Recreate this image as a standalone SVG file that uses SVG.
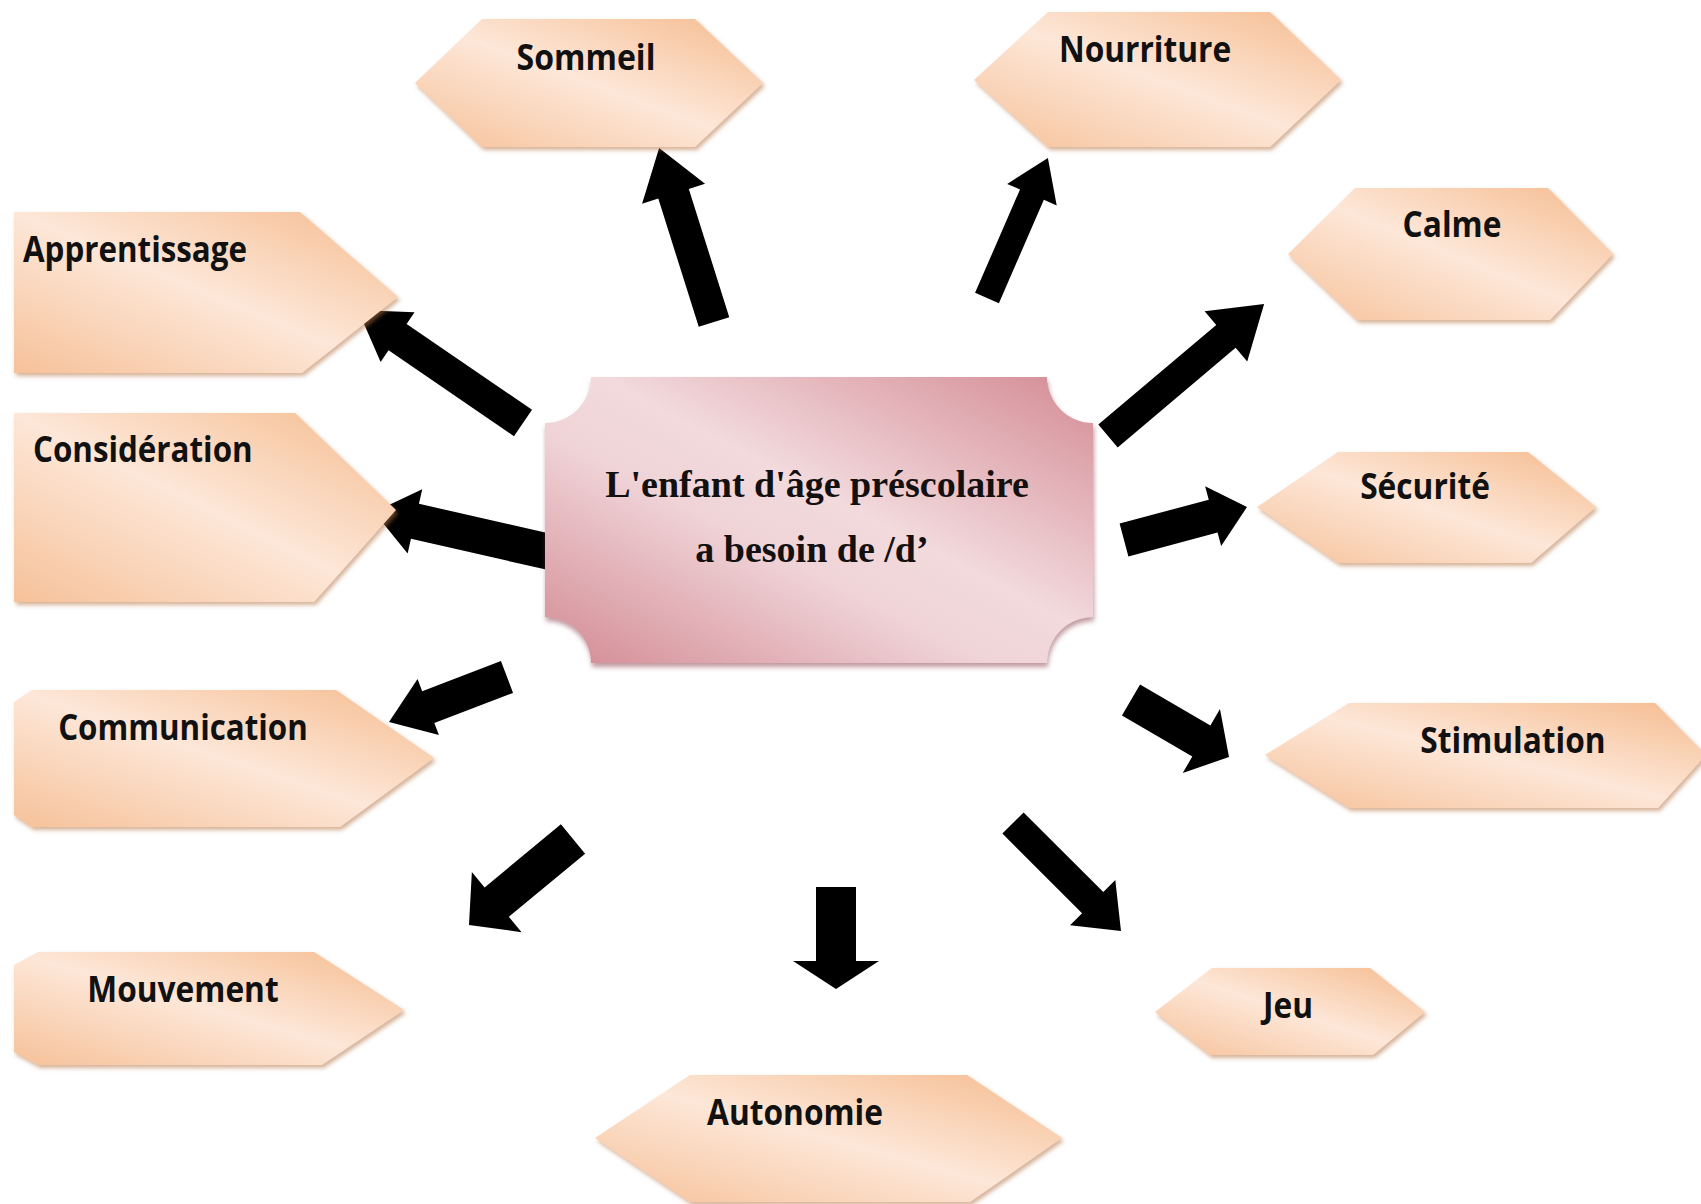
<svg xmlns="http://www.w3.org/2000/svg" width="1701" height="1204" viewBox="0 0 1701 1204">
<defs>
<style>
.hex{fill:url(#peach);filter:url(#sh)}
.lbl{font-family:"Open Sans","Noto Sans","Liberation Sans",sans-serif;font-weight:700;font-size:36px;fill:#111}
.arrow{fill:#000}
.ctxt{font-family:"Liberation Serif","Times New Roman",serif;font-weight:700;font-size:38px;fill:#141010;text-anchor:middle}
</style>
<linearGradient id="peach" x1="1" y1="0" x2="0" y2="1">
<stop offset="0" stop-color="#f5bb8e"/>
<stop offset="0.5" stop-color="#fde7d8"/>
<stop offset="1" stop-color="#f6c199"/>
</linearGradient>
<linearGradient id="pink" x1="1" y1="0" x2="0" y2="1">
<stop offset="0" stop-color="#d48b94"/>
<stop offset="0.45" stop-color="#f2dadd"/>
<stop offset="0.6" stop-color="#efd3d7"/>
<stop offset="1" stop-color="#d38a93"/>
</linearGradient>
<filter id="sh" x="-10%" y="-10%" width="125%" height="130%">
<feDropShadow dx="2" dy="3" stdDeviation="2" flood-color="#b36f3e" flood-opacity="0.55"/>
</filter>
<filter id="shp" x="-10%" y="-10%" width="125%" height="130%">
<feDropShadow dx="1" dy="4" stdDeviation="2.5" flood-color="#8a4450" flood-opacity="0.55"/>
</filter>
</defs>
<rect width="1701" height="1204" fill="#ffffff"/>

<g id="connectors">
<polygon class="arrow" transform="translate(714,322) rotate(-107.5)" points="0,-16 134.5,-16 134.5,-33 182.5,0 134.5,33 134.5,16 0,16"/>
<polygon class="arrow" transform="translate(987,298) rotate(-66.5)" points="0,-13 112.7,-13 112.7,-27 152.7,0 112.7,27 112.7,13 0,13"/>
<polygon class="arrow" transform="translate(1108,436) rotate(-40.2)" points="0,-15 154.4,-15 154.4,-33 204.4,0 154.4,33 154.4,15 0,15"/>
<polygon class="arrow" transform="translate(1124,540) rotate(-15)" points="0,-17 92.3,-17 92.3,-31 127.3,0 92.3,31 92.3,17 0,17"/>
<polygon class="arrow" transform="translate(1131,700) rotate(30.2)" points="0,-18 81.4,-18 81.4,-37 113.4,0 81.4,37 81.4,18 0,18"/>
<polygon class="arrow" transform="translate(1013,823) rotate(45)" points="0,-15 112.7,-15 112.7,-32 152.7,0 112.7,32 112.7,15 0,15"/>
<polygon class="arrow" transform="translate(836,887) rotate(90)" points="0,-20 74,-20 74,-43 102,0 74,43 74,20 0,20"/>
<polygon class="arrow" transform="translate(573,839) rotate(140.4)" points="0,-19 99,-19 99,-39 135,0 99,39 99,19 0,19"/>
<polygon class="arrow" transform="translate(507,677) rotate(159.1)" points="0,-17 84.3,-17 84.3,-30 126.3,0 84.3,30 84.3,17 0,17"/>
<polygon class="arrow" transform="translate(550,552) rotate(-167.2)" points="0,-18 138.5,-18 138.5,-33 180.5,0 138.5,33 138.5,18 0,18"/>
<polygon class="arrow" transform="translate(523,423) rotate(-145.6)" points="0,-16 152,-16 152,-30 200,0 152,30 152,16 0,16"/>
</g>

<g id="center">
<path d="M591 377 H1047 A46 46 0 0 0 1093 423 V617 A46 46 0 0 0 1047 663 H591 A46 46 0 0 0 545 617 V423 A46 46 0 0 0 591 377 Z" fill="url(#pink)" filter="url(#shp)"/>
<text class="ctxt" x="817" y="497">L'enfant d'âge préscolaire</text>
<text class="ctxt" x="812" y="562">a besoin de /d’</text>
</g>

<g id="sommeil">
<polygon class="hex" points="415,83 482,19 695,19 763,83 695,147 482,147"/>
<text class="lbl" transform="translate(586,70) scale(0.89,1)" text-anchor="middle">Sommeil</text>
</g>
<g id="nourriture">
<polygon class="hex" points="974,80 1048,12 1270,12 1341,80 1270,147 1048,147"/>
<text class="lbl" transform="translate(1145,62) scale(0.88,1)" text-anchor="middle">Nourriture</text>
</g>
<g id="calme">
<polygon class="hex" points="1288,254 1355,188 1548,188 1613,254 1550,320 1357,320"/>
<text class="lbl" transform="translate(1452,237) scale(0.88,1)" text-anchor="middle">Calme</text>
</g>
<g id="securite">
<polygon class="hex" points="1257,507 1338,452 1528,452 1596,507 1531,563 1338,563"/>
<text class="lbl" transform="translate(1425,499) scale(0.88,1)" text-anchor="middle">Sécurité</text>
</g>
<g id="stimulation">
<polygon class="hex" points="1265,755 1349,703 1655,703 1706,755 1658,808 1349,808"/>
<text class="lbl" transform="translate(1513,753) scale(0.88,1)" text-anchor="middle">Stimulation</text>
</g>
<g id="jeu">
<polygon class="hex" points="1155,1012 1212,968 1370,968 1425,1012 1373,1055 1210,1055"/>
<text class="lbl" transform="translate(1288,1018) scale(0.88,1)" text-anchor="middle">Jeu</text>
</g>
<g id="autonomie">
<polygon class="hex" points="595,1138 690,1075 967,1075 1062,1138 970,1202 690,1202"/>
<text class="lbl" transform="translate(795,1125) scale(0.88,1)" text-anchor="middle">Autonomie</text>
</g>
<g id="mouvement">
<polygon class="hex" points="14,965 38,952 314,952 404,1010 322,1065 38,1065 14,1052"/>
<text class="lbl" transform="translate(183,1002) scale(0.88,1)" text-anchor="middle">Mouvement</text>
</g>
<g id="communication">
<polygon class="hex" points="14,702 32,690 336,690 434,758 340,827 32,827 14,815"/>
<text class="lbl" transform="translate(183,740) scale(0.87,1)" text-anchor="middle">Communication</text>
</g>
<g id="consideration">
<polygon class="hex" points="14,413 295,413 396,510 314,602 14,602"/>
<text class="lbl" transform="translate(33,462) scale(0.87,1)">Considération</text>
</g>
<g id="apprentissage">
<polygon class="hex" points="14,212 300,212 398,297 302,373 14,373"/>
<text class="lbl" transform="translate(23,262) scale(0.87,1)">Apprentissage</text>
</g>
</svg>
